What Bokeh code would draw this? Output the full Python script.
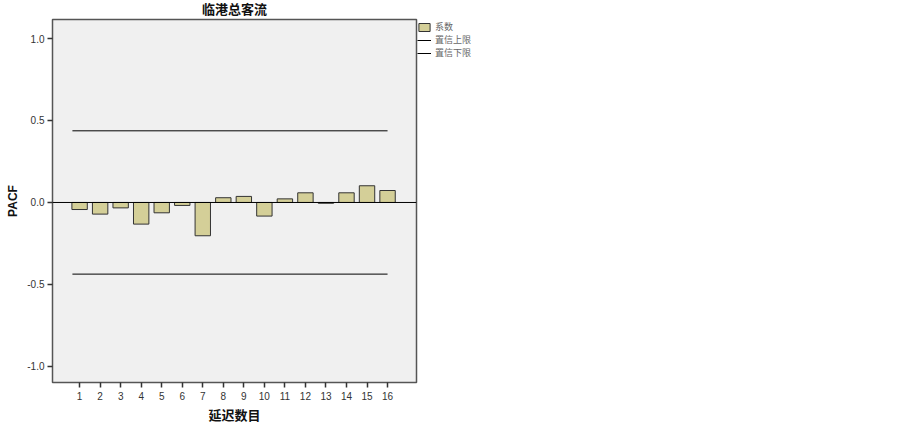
from bokeh.plotting import figure
from bokeh.models import Range1d, FixedTicker, Span, Legend, LegendItem, NumeralTickFormatter, Title
from bokeh.embed import file_html
from bokeh.resources import INLINE

lags = list(range(1, 17))
pacf = [-0.043, -0.071, -0.033, -0.132, -0.063, -0.018, -0.203, 0.029,
        0.037, -0.083, 0.022, 0.059, -0.005, 0.059, 0.102, 0.073]
conf_upper = [0.437, 0.437]
conf_lower = [-0.437, -0.437]
conf_x = [0.65, 16.0]
y_ticks = [-1.0, -0.5, 0.0, 0.5, 1.0]

p = figure(frame_width=364, frame_height=363, output_backend="svg", toolbar_location=None,
           x_range=Range1d(-0.32, 17.41), y_range=Range1d(-1.098, 1.116),
           min_border_left=0, min_border_top=0, min_border_right=0, min_border_bottom=0,
           background_fill_color="#f0f0f0", border_fill_color="white")
p.styles = {"margin-top": "-6px", "margin-left": "3px"}

p.title = Title(text="临港总客流", align="center", text_font="Noto Sans CJK SC",
                text_font_size="13px", text_font_style="bold", text_color="#111111",
                standoff=4, offset=0)
p.grid.visible = False
p.outline_line_color = "#555555"
p.outline_line_width = 1.5

bars = p.vbar(x=lags, top=pacf, bottom=0, width=0.75, fill_color="#d4cf98", line_color="#333333", line_width=1)
zero = Span(location=0, dimension="width", line_color="black", line_width=1)
p.add_layout(zero)
up = p.line(conf_x, conf_upper, line_color="black", line_width=1)
lo = p.line(conf_x, conf_lower, line_color="black", line_width=1)

for ax in (p.xaxis[0], p.yaxis[0]):
    ax.axis_line_color = None
    ax.major_tick_out = 5
    ax.major_tick_in = 0
    ax.minor_tick_line_color = None
    ax.major_tick_line_color = "#333333"
    ax.major_tick_line_width = 1.5
    ax.major_label_text_font = "Arial"
    ax.major_label_text_font_size = "10px"
    ax.major_label_text_color = "#333333"
    ax.axis_label_text_font_style = "bold"
    ax.axis_label_text_color = "#111111"

p.xaxis.ticker = FixedTicker(ticks=lags)
p.xaxis.axis_label = "延迟数目"
p.xaxis.axis_label_text_font = "Noto Sans CJK SC"
p.xaxis.axis_label_text_font_size = "13px"
p.xaxis.major_label_standoff = 4
p.xaxis.axis_label_standoff = 2

p.yaxis.ticker = FixedTicker(ticks=y_ticks)
p.yaxis.formatter = NumeralTickFormatter(format="0.0")
p.yaxis.axis_label = "PACF"
p.yaxis.axis_label_text_font = "Arial"
p.yaxis.axis_label_text_font_size = "12px"
p.yaxis.major_label_standoff = 3
p.yaxis.axis_label_standoff = 4

legend = Legend(items=[LegendItem(label="系数", renderers=[bars]),
                       LegendItem(label="置信上限", renderers=[up]),
                       LegendItem(label="置信下限", renderers=[lo])],
                location="top_left", border_line_color=None, background_fill_alpha=0,
                label_text_font="Noto Sans CJK SC", label_text_font_size="9px",
                label_text_color="#666666", glyph_width=14, glyph_height=10,
                label_height=10, label_standoff=4, spacing=0, padding=0, margin=1)
p.add_layout(legend, "right")

open("out.html", "w").write(file_html(p, INLINE))
